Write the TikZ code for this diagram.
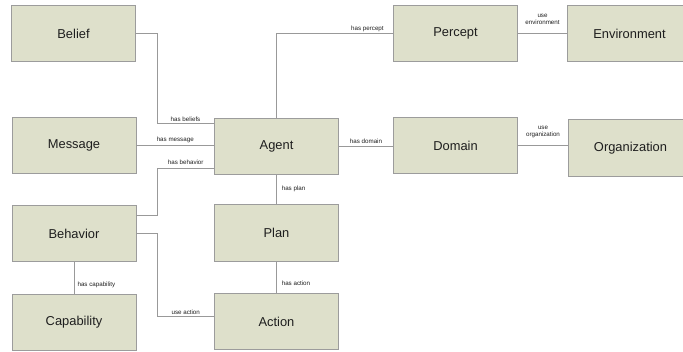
\documentclass[tikz,border=0pt]{standalone}
\usepackage{fontspec}
\setmainfont{Liberation Sans}
\definecolor{boxfill}{HTML}{DEE0CB}
\definecolor{boxline}{HTML}{9C9C9C}
\definecolor{linkline}{HTML}{999999}
\definecolor{txt}{HTML}{1E1E1E}
\begin{document}
\begin{tikzpicture}[x=0.03cm, y=-0.03cm,
  entity/.style={shape=rectangle, draw=boxline, fill=boxfill, line width=0.7pt,
    minimum width=3.72cm, minimum height=1.69cm, text=txt, font=\fontsize{11}{13}\selectfont},
  link/.style={draw=linkline, line width=0.7pt},
  lbl/.style={inner sep=1.2pt, text=txt, font=\fontsize{5.3}{6.2}\selectfont, align=center}]
\useasboundingbox (0,0) rectangle (683,351);
\clip (0,0) rectangle (683,351);
\node[entity] (Belief) at (73.5, 33.5) {Belief};
\node[entity] (Message) at (74, 145.5) {Message};
\node[entity] (Agent) at (276.5, 146.5) {Agent};
\node[entity] (Percept) at (455.5, 33.5) {Percept};
\node[entity] (Environment) at (629.5, 33.5) {Environment};
\node[entity] (Domain) at (455.5, 145.5) {Domain};
\node[entity] (Organization) at (630.5, 148) {Organization};
\node[entity] (Behavior) at (74, 233.5) {Behavior};
\node[entity] (Capability) at (74, 322.5) {Capability};
\node[entity] (Plan) at (276.5, 233) {Plan};
\node[entity] (Action) at (276.5, 321.5) {Action};
\draw[link] (Belief.east) -- ++(21,0) |- node[lbl, pos=0.75, above] {has beliefs} ([yshift=0.705cm]Agent.west);
\draw[link] (Message.east) -- node[lbl, above=1pt] {has message} (Message.east -| Agent.west);
\draw[link] ([yshift=0.555cm]Behavior.east) -- ++(21,0) |- node[lbl, pos=0.75, above=1pt] {has behavior} ([yshift=-0.645cm]Agent.west);
\draw[link] (Behavior.east) -- ++(21,0) |- node[lbl, pos=0.75, above] {use action} ([yshift=0.165cm]Action.west);
\draw[link] (Agent.north) |- node[lbl, pos=0.89, above] {has percept} (Percept.west);
\draw[link] (Percept.east) -- node[lbl, above=6pt] {use\\environment} (Environment.west);
\draw[link] (Agent.east) -- node[lbl, above=1pt] {has domain} (Agent.east -| Domain.west);
\draw[link] (Domain.east) -- node[lbl, above=5pt] {use\\organization} (Domain.east -| Organization.west);
\draw[link] (Agent.south) -- node[lbl, pos=0.48, right=3pt] {has plan} (Plan.north);
\draw[link] (Plan.south) -- node[lbl, pos=0.69, right=3pt] {has action} (Action.north);
\draw[link] (Behavior.south) -- node[lbl, pos=0.72, right=1.5pt] {has capability} (Capability.north);
\end{tikzpicture}
\end{document}
